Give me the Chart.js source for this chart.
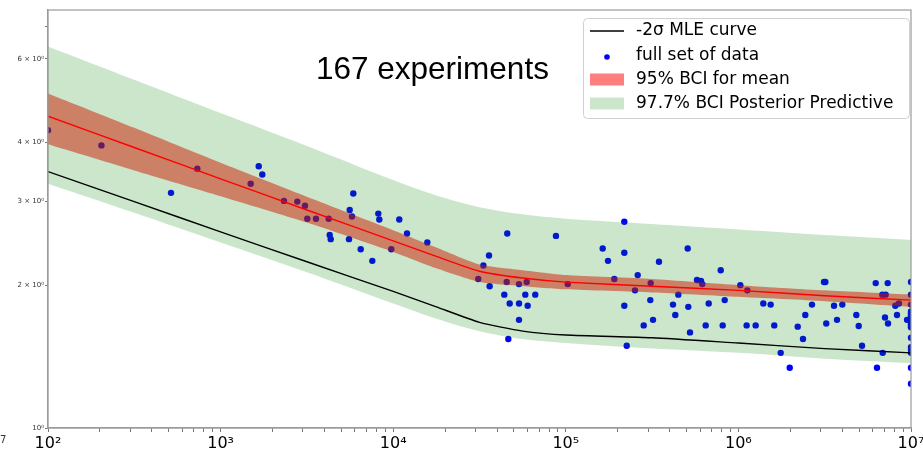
<!DOCTYPE html>
<html>
<head>
<meta charset="utf-8">
<script src="https://cdn.jsdelivr.net/npm/chart.js@4"></script>
<style>
  html, body { margin: 0; padding: 0; background: #fff; }
  #wrap { width: 923px; height: 450px; }
</style>
</head>
<body>
<div id="wrap"><canvas id="bciChart" width="923" height="450"></canvas></div>
<script>
// curve nodes (cycles)
const curveX = [100, 316, 1000, 3162, 10000, 17783, 31623, 56234, 100000, 316228, 1000000, 3162278, 10000000];
const mleCurve = [3.47, 3.00, 2.59, 2.24, 1.94, 1.80, 1.67, 1.60, 1.57, 1.55, 1.51, 1.47, 1.44];
const meanCurve = [4.54, 3.90, 3.35, 2.88, 2.48, 2.30, 2.14, 2.07, 2.03, 1.99, 1.95, 1.90, 1.86];
const meanUpper = [5.07, 4.29, 3.62, 3.07, 2.61, 2.40, 2.21, 2.15, 2.10, 2.06, 2.00, 1.95, 1.91];
const meanLower = [3.96, 3.49, 3.08, 2.71, 2.35, 2.17, 2.03, 1.99, 1.96, 1.93, 1.89, 1.85, 1.80];
const predUpper = [6.37, 5.42, 4.61, 3.93, 3.33, 3.09, 2.92, 2.82, 2.76, 2.69, 2.62, 2.55, 2.49];
const predLower = [3.27, 2.84, 2.46, 2.13, 1.83, 1.70, 1.60, 1.54, 1.51, 1.47, 1.44, 1.40, 1.37];

// experiments
const dataX = [
  100, 204, 516, 733, 1663, 1744, 1494, 2330, 2782, 3083, 3179, 3570, 4229, 5872, 5598, 5771,
  4285, 4345, 5546, 6483, 7568, 8198, 8308, 10846, 12023, 9750, 15760, 45800, 87700, 35900,
  33300, 31100, 36200, 45460, 53560, 59360, 102600, 44030, 58250, 66530, 47300, 53570, 60140,
  53570, 46450,
  218300, 163600, 218300, 175600, 346700, 508600, 261000, 191000, 310300, 251700, 575500,
  607200, 617700, 790000, 448600, 308700, 218300, 417900, 512600, 673000, 833000, 430900,
  320100, 282700, 646300, 810900, 1116000, 1259000, 524300, 225400, 1026000, 1126000,
  1614000, 1394000, 1538000, 1758000, 1983000, 2206000, 2367000, 2441000, 2669000, 3133000,
  3190000, 3228000, 3581000, 3726000, 4000000, 4822000, 4978000, 5203000, 6245000, 7330000,
  6820000, 7129000, 8109000, 8515000, 7069000, 7359000, 8297000, 9484000, 6855000, 6353000,
  10000000, 10000000, 10000000, 10000000, 10000000, 10000000, 10000000, 10000000, 10000000,
  10000000, 10000000, 10000000, 10000000, 10000000, 10000000, 10000000, 10000000, 10000000,
  10000000, 10000000, 10000000, 10000000
];
const dataY = [
  4.24, 3.94, 3.13, 3.52, 3.56, 3.42, 3.27, 3.01, 3.00, 2.94, 2.76, 2.76, 2.76, 3.12, 2.88, 2.79,
  2.55, 2.50, 2.50, 2.38, 2.25, 2.83, 2.75, 2.75, 2.57, 2.38, 2.46, 2.57, 2.54, 2.31,
  2.20, 2.06, 1.99, 2.03, 2.01, 2.03, 2.01, 1.91, 1.91, 1.91, 1.83, 1.83, 1.81,
  1.69, 1.54,
  2.72, 2.39, 2.34, 2.25, 2.24, 2.39, 2.10, 2.06, 2.02, 1.95, 2.05,
  2.04, 2.01, 2.15, 1.91, 1.86, 1.81, 1.82, 1.80, 1.83, 1.86, 1.73,
  1.69, 1.645, 1.645, 1.645, 1.645, 1.645, 1.59, 1.49, 2.00, 1.95,
  1.645, 1.83, 1.82, 1.44, 1.34, 1.635, 1.54, 1.73, 1.82, 2.03,
  2.03, 1.66, 1.81, 1.69, 1.82, 1.73, 1.64, 1.49, 2.02, 2.02,
  1.91, 1.91, 1.81, 1.83, 1.71, 1.66, 1.73, 1.69, 1.44, 1.34,
  2.03, 1.91, 1.82, 1.76, 1.745, 1.73, 1.72, 1.71, 1.70, 1.69,
  1.68, 1.67, 1.66, 1.65, 1.64, 1.63, 1.55, 1.48, 1.46, 1.44,
  1.34, 1.24
];

// axis ticks
const xMajorTicks = [100, 1000, 10000, 100000, 1000000, 10000000];
const xTickLabels = ['10²', '10³', '10⁴', '10⁵', '10⁶', '10⁷'];
const yTicks = [1, 2, 3, 4, 6, 7];
const yTickLabels = ['10⁰', '2 × 10⁰', '3 × 10⁰', '4 × 10⁰', '6 × 10⁰', ''];

const titleText = '167 experiments';
const legendItems = ['-2σ MLE curve', 'full set of data', '95% BCI for mean', '97.7% BCI Posterior Predictive'];

const RED_FILL = 'rgba(255, 0, 0, 0.5)';
const GREEN_FILL = 'rgba(0, 128, 0, 0.2)';

function pts(xs, ys) {
    return xs.map((x, i) => ({ x: x, y: ys[i] }));
}

function xMinorTicks() {
    const ticks = [];
    xMajorTicks.forEach((m, i) => {
        ticks.push(m);
        if (i < xMajorTicks.length - 1) {
            for (let k = 2; k <= 9; k++) ticks.push(m * k);
        }
    });
    return ticks;
}

// frame, title text, legend
const decorPlugin = {
    id: 'decor',
    afterDraw(chart) {
        const ctx = chart.ctx;
        const a = chart.chartArea;
        ctx.save();

        // axes box
        ctx.strokeStyle = '#9a9a9a';
        ctx.lineWidth = 1.2;
        ctx.strokeRect(a.left, a.top, a.right - a.left, a.bottom - a.top);

        // annotation
        ctx.fillStyle = '#000';
        ctx.font = '31.5px "Liberation Sans", Arial, sans-serif';
        ctx.textBaseline = 'alphabetic';
        ctx.textAlign = 'left';
        ctx.fillText(titleText, 316, 79);

        // stray cut-off label at the bottom left
        ctx.font = '10px "DejaVu Sans"';
        ctx.fillStyle = '#333';
        ctx.textBaseline = 'middle';
        ctx.fillText('7', 0, 440);

        // legend
        const bx = 583.5, by = 18.5, bw = 326, bh = 100;
        ctx.beginPath();
        ctx.roundRect(bx, by, bw, bh, 4);
        ctx.fillStyle = 'rgba(255,255,255,0.8)';
        ctx.fill();
        ctx.strokeStyle = '#d0d0d0';
        ctx.lineWidth = 1;
        ctx.stroke();

        const rows = [31, 55.5, 79.5, 103.5];
        ctx.font = '17px "DejaVu Sans"';
        ctx.textBaseline = 'middle';
        ctx.fillStyle = '#000';
        legendItems.forEach((t, i) => ctx.fillText(t, 636, rows[i]));

        ctx.strokeStyle = '#000';
        ctx.lineWidth = 1.5;
        ctx.beginPath();
        ctx.moveTo(590, rows[0]);
        ctx.lineTo(624, rows[0]);
        ctx.stroke();

        ctx.fillStyle = '#0000ff';
        ctx.beginPath();
        ctx.arc(607, rows[1] + 1.5, 2.8, 0, Math.PI * 2);
        ctx.fill();

        ctx.fillStyle = RED_FILL;
        ctx.fillRect(590, rows[2] - 6, 34, 12);
        ctx.fillStyle = GREEN_FILL;
        ctx.fillRect(590, rows[3] - 6, 34, 12);

        ctx.restore();
    }
};

const ctx = document.getElementById('bciChart').getContext('2d');

new Chart(ctx, {
    type: 'line',
    data: {
        datasets: [
            {
                // 0: experiments
                label: legendItems[1],
                data: pts(dataX, dataY),
                showLine: false,
                pointRadius: 3.2,
                pointHoverRadius: 3.2,
                pointBackgroundColor: '#0000ff',
                pointBorderWidth: 0,
                borderColor: '#0000ff',
                clip: 0,
                order: 6
            },
            {
                // 1: red band lower edge
                data: pts(curveX, meanLower),
                borderWidth: 0,
                pointRadius: 0,
                fill: false,
                tension: 0.2,
                order: 5
            },
            {
                // 2: red band upper edge
                label: legendItems[2],
                data: pts(curveX, meanUpper),
                borderWidth: 0,
                pointRadius: 0,
                backgroundColor: RED_FILL,
                fill: 1,
                tension: 0.2,
                order: 5
            },
            {
                // 3: predictive lower edge
                data: pts(curveX, predLower),
                borderWidth: 0,
                pointRadius: 0,
                fill: false,
                tension: 0.3,
                order: 4
            },
            {
                // 4: predictive upper edge
                label: legendItems[3],
                data: pts(curveX, predUpper),
                borderWidth: 0,
                pointRadius: 0,
                backgroundColor: GREEN_FILL,
                fill: 3,
                tension: 0.3,
                order: 4
            },
            {
                label: legendItems[0],
                data: pts(curveX, mleCurve),
                borderColor: '#000',
                borderWidth: 1.4,
                pointRadius: 0,
                fill: false,
                tension: 0.2,
                order: 2
            },
            {
                label: 'mean',
                data: pts(curveX, meanCurve),
                borderColor: '#ff0000',
                borderWidth: 1.4,
                pointRadius: 0,
                fill: false,
                tension: 0.2,
                order: 1
            }
        ]
    },
    options: {
        responsive: false,
        animation: false,
        layout: {
            padding: { top: 10, right: 12, left: 0, bottom: 0 }
        },
        plugins: {
            legend: { display: false },
            tooltip: { enabled: false },
            filler: { propagate: false }
        },
        scales: {
            x: {
                type: 'logarithmic',
                min: 100,
                max: 10000000,
                afterBuildTicks: (scale) => {
                    scale.ticks = xMinorTicks().map(v => ({ value: v }));
                },
                afterFit: (scale) => {
                    scale.height = 22;
                    scale.paddingLeft = 0;
                    scale.paddingRight = 0;
                },
                ticks: {
                    autoSkip: false,
                    maxRotation: 0,
                    padding: 2,
                    color: '#000',
                    font: { family: 'DejaVu Sans', size: 16 },
                    callback: function (value) {
                        const i = xMajorTicks.indexOf(value);
                        return i >= 0 ? xTickLabels[i] : '';
                    }
                },
                grid: {
                    drawOnChartArea: false,
                    drawTicks: true,
                    tickLength: 4,
                    tickColor: '#777'
                },
                border: { color: '#9a9a9a', width: 1.2 }
            },
            y: {
                type: 'logarithmic',
                min: 1,
                max: 7.6,
                afterBuildTicks: (scale) => {
                    scale.ticks = yTicks.map(v => ({ value: v }));
                },
                afterFit: (scale) => {
                    scale.width = 48;
                    scale.paddingTop = 0;
                    scale.paddingBottom = 0;
                },
                ticks: {
                    autoSkip: false,
                    padding: 1,
                    color: '#333',
                    font: { family: 'DejaVu Sans', size: 7 },
                    callback: function (value) {
                        const i = yTicks.indexOf(value);
                        return i >= 0 ? yTickLabels[i] : '';
                    }
                },
                grid: {
                    drawOnChartArea: false,
                    drawTicks: true,
                    tickLength: 3,
                    tickColor: '#777'
                },
                border: { color: '#9a9a9a', width: 1.2 }
            }
        }
    },
    plugins: [decorPlugin]
});
</script>
</body>
</html>
